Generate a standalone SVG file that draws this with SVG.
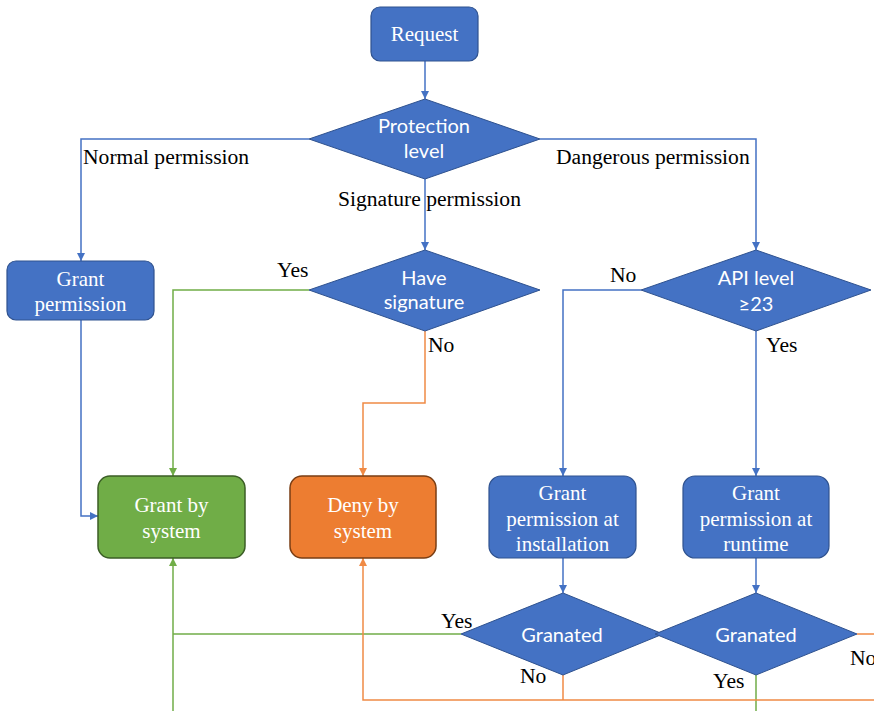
<svg xmlns="http://www.w3.org/2000/svg" width="874" height="711" viewBox="0 0 874 711">
  <style>
    .box-blue { fill: #4472C4; stroke: #2F528F; stroke-width: 1.2; }
    .box-green { fill: #70AD47; stroke: #3B5E26; stroke-width: 1.5; }
    .box-orange { fill: #ED7D31; stroke: #7A3E14; stroke-width: 1.5; }
    .dia { fill: #4472C4; stroke: #2F528F; stroke-width: 1; }
    .t-serif { font-family: "Liberation Serif", "Times New Roman", serif; font-size: 21px; fill: #FFFFFF; text-anchor: middle; }
    .t-sans { font-family: Lato, "Open Sans", "Liberation Sans", sans-serif; font-size: 20px; fill: #FFFFFF; text-anchor: middle; }
    .lbl { font-family: "Liberation Serif", "Times New Roman", serif; font-size: 21.6px; fill: #000000; }
    .c-blue { fill: none; stroke: #4472C4; stroke-width: 1.5; }
    .c-green { fill: none; stroke: #70AD47; stroke-width: 1.5; }
    .c-orange { fill: none; stroke: #F08A45; stroke-width: 1.5; }
  </style>
  <defs>
    <marker id="ah-blue" viewBox="0 0 10 10" refX="10" refY="5" markerWidth="8" markerHeight="8" markerUnits="userSpaceOnUse" orient="auto">
      <path d="M0,0 L10,5 L0,10 z" fill="#4472C4"/>
    </marker>
    <marker id="ah-green" viewBox="0 0 10 10" refX="10" refY="5" markerWidth="8" markerHeight="8" markerUnits="userSpaceOnUse" orient="auto">
      <path d="M0,0 L10,5 L0,10 z" fill="#70AD47"/>
    </marker>
    <marker id="ah-orange" viewBox="0 0 10 10" refX="10" refY="5" markerWidth="8" markerHeight="8" markerUnits="userSpaceOnUse" orient="auto">
      <path d="M0,0 L10,5 L0,10 z" fill="#F08A45"/>
    </marker>
  </defs>

  <rect width="874" height="711" fill="#FFFFFF"/>

  <!-- connectors -->
  <g id="connectors">
    <path class="c-blue" d="M425,61 V99" marker-end="url(#ah-blue)"/>
    <path class="c-blue" d="M309,139 H81 V261" marker-end="url(#ah-blue)"/>
    <path class="c-blue" d="M540,139 H756 V250" marker-end="url(#ah-blue)"/>
    <path class="c-blue" d="M425,179 V250" marker-end="url(#ah-blue)"/>
    <path class="c-blue" d="M81,320 V516 H98" marker-end="url(#ah-blue)"/>
    <path class="c-blue" d="M641,290 H563 V476" marker-end="url(#ah-blue)"/>
    <path class="c-blue" d="M756,331 V476" marker-end="url(#ah-blue)"/>
    <path class="c-blue" d="M563,558 V593" marker-end="url(#ah-blue)"/>
    <path class="c-blue" d="M756,558 V593" marker-end="url(#ah-blue)"/>

    <path class="c-green" d="M309,290 H173 V476" marker-end="url(#ah-green)"/>
    <path class="c-green" d="M461,634 H173"/>
    <path class="c-green" d="M173,711 V558" marker-end="url(#ah-green)"/>
    <path class="c-green" d="M756,675 V711"/>

    <path class="c-orange" d="M425,331 V403 H363 V476" marker-end="url(#ah-orange)"/>
    <path class="c-orange" d="M563,675 V700"/>
    <path class="c-orange" d="M874,700 H363 V558" marker-end="url(#ah-orange)"/>
    <path class="c-orange" d="M857,634 H874"/>
  </g>

  <!-- connector labels -->
  <g id="labels">
    <text class="lbl" x="83" y="164">Normal permission</text>
    <text class="lbl" x="556" y="164">Dangerous permission</text>
    <text class="lbl" x="338" y="206">Signature permission</text>
    <text class="lbl" x="277" y="277">Yes</text>
    <text class="lbl" x="428" y="352">No</text>
    <text class="lbl" x="610" y="282">No</text>
    <text class="lbl" x="766" y="352">Yes</text>
    <text class="lbl" x="441" y="628">Yes</text>
    <text class="lbl" x="520" y="683">No</text>
    <text class="lbl" x="713" y="688">Yes</text>
    <text class="lbl" x="850" y="665">No</text>
  </g>

  <!-- nodes -->
  <g id="request">
    <rect class="box-blue" x="371" y="7" width="107" height="54" rx="9"/>
    <text class="t-serif" x="424.5" y="41">Request</text>
  </g>

  <g id="protection-level">
    <polygon class="dia" points="425,99 540,139 425,179 309,139"/>
    <text class="t-sans" x="424" y="133">Protection</text>
    <text class="t-sans" x="424" y="158">level</text>
  </g>

  <g id="grant-permission">
    <rect class="box-blue" x="7" y="261" width="147" height="59" rx="9"/>
    <text class="t-serif" x="80.5" y="286">Grant</text>
    <text class="t-serif" x="80.5" y="311">permission</text>
  </g>

  <g id="have-signature">
    <polygon class="dia" points="425,250 540,290 425,331 309,290"/>
    <text class="t-sans" x="424" y="285">Have</text>
    <text class="t-sans" x="424" y="309">signature</text>
  </g>

  <g id="api-level">
    <polygon class="dia" points="756,250 871,290 756,331 641,290"/>
    <text class="t-sans" x="756" y="285">API level</text>
    <text class="t-sans" x="756" y="311">≥23</text>
  </g>

  <g id="grant-by-system">
    <rect class="box-green" x="98" y="476" width="147" height="82" rx="12"/>
    <text class="t-serif" x="171.5" y="512">Grant by</text>
    <text class="t-serif" x="171.5" y="538">system</text>
  </g>

  <g id="deny-by-system">
    <rect class="box-orange" x="290" y="476" width="146" height="82" rx="12"/>
    <text class="t-serif" x="363" y="512">Deny by</text>
    <text class="t-serif" x="363" y="538">system</text>
  </g>

  <g id="grant-at-installation">
    <rect class="box-blue" x="489" y="476" width="147" height="82" rx="12"/>
    <text class="t-serif" x="562.5" y="500">Grant</text>
    <text class="t-serif" x="562.5" y="526">permission at</text>
    <text class="t-serif" x="562.5" y="551">installation</text>
  </g>

  <g id="grant-at-runtime">
    <rect class="box-blue" x="683" y="476" width="146" height="82" rx="12"/>
    <text class="t-serif" x="756" y="500">Grant</text>
    <text class="t-serif" x="756" y="526">permission at</text>
    <text class="t-serif" x="756" y="551">runtime</text>
  </g>

  <g id="granted-install">
    <polygon class="dia" points="563,593 663,634 563,675 461,634"/>
    <text class="t-sans" x="562" y="642">Granated</text>
  </g>

  <g id="granted-runtime">
    <polygon class="dia" points="756,593 857,634 756,675 655,634"/>
    <text class="t-sans" x="756" y="642">Granated</text>
  </g>
</svg>
